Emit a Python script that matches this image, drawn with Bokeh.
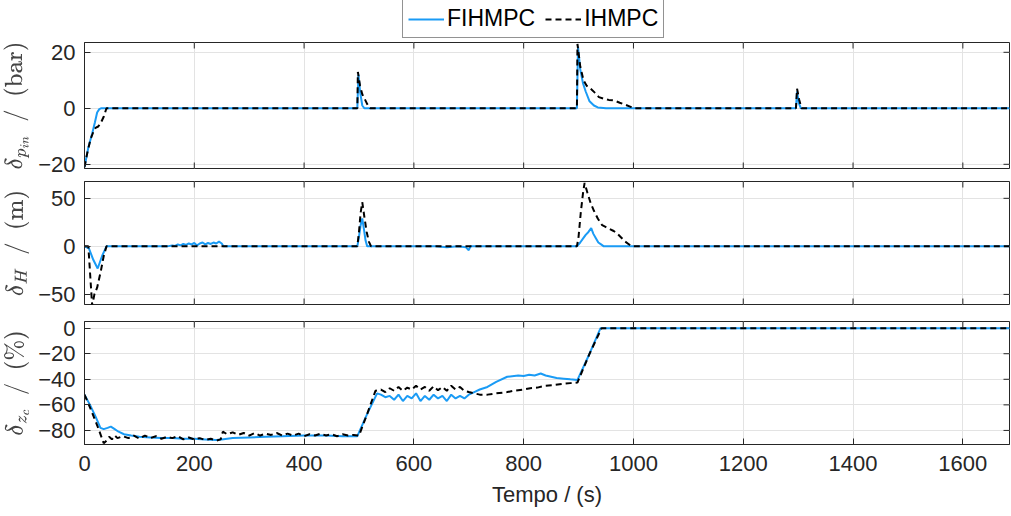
from bokeh.plotting import figure
from bokeh.layouts import column
from bokeh.models import Range1d, FixedTicker, Legend, LegendItem
from bokeh.embed import file_html
from bokeh.resources import INLINE

# ---------------- data ----------------
x_ticks = [0, 200, 400, 600, 800, 1000, 1200, 1400, 1600]
x_max = 1685

# delta p_in (bar)
t_p_fi = [0, 7, 14, 19, 23, 27, 30, 45, 497, 499, 502, 506, 510, 897, 899, 903, 908, 913, 920, 928, 935, 950,
          1296, 1298, 1301, 1305, 1685]
p_fi = [-21, -14, -9, -5, -1.5, -0.3, 0, 0, 0, 12, 6, 1, 0, 0, 22, 14, 9, 6, 2.5, 1, 0.3, 0,
        0, 6, 2, 0, 0]
t_p_ih = [0, 5, 11, 16, 20, 25, 29, 35, 40, 497, 498, 502, 506, 510, 515, 520, 897, 898, 903, 909, 915, 922,
          930, 937, 945, 955, 965, 975, 985, 995, 1000, 1296, 1298, 1302, 1306, 1685]
p_ih = [-21, -16, -11, -8.5, -7, -6.5, -5.5, -3, 0, 0, 13, 8, 5, 3.5, 1.5, 0, 0, 23, 15, 10, 8, 7,
        5.5, 4, 3.5, 3, 2.8, 2, 1.3, 0.5, 0, 0, 7, 3, 0, 0]
p_ticks = [-20, 0, 20]

# delta H (m)
t_h_fi = [0, 8, 16, 24, 32, 40, 150, 160, 165, 170, 175, 180, 185, 190, 195, 200, 205, 210, 215, 220, 225,
          230, 235, 240, 245, 250, 253, 497, 500, 503, 506, 509, 512, 515, 640, 660, 680, 695, 700, 703,
          897, 903, 908, 913, 918, 923, 927, 931, 936, 941, 946, 1685]
h_fi = [0, -2, -14, -23, -10, 0, 0, 1, 0.5, 2, 1, 2.5, 1.5, 3, 2, 3.5, 1, 3, 4, 2, 3.5,
        2.5, 4, 3, 5, 3, 0, 0, 10, 22, 29, 18, 6, 0, 0, -1, 0, -1, -4, 0,
        0, 4, 8, 12, 15, 19, 13, 9, 4, 2, 0, 0]
t_h_ih = [0, 7, 14, 18, 23, 30, 35, 40, 497, 500, 503, 506, 510, 514, 518, 522, 897, 900, 904, 908, 911,
          916, 922, 928, 935, 943, 950, 957, 964, 971, 978, 985, 992, 998, 1685]
h_ih = [0, 0, -62, -50, -43, -25, -10, 0, 0, 15, 35, 46, 30, 15, 5, 0, 0, 10, 35, 55, 66,
        56, 45, 37, 29, 22, 20, 18, 16, 13, 9, 5, 2, 0, 0]
h_ticks = [-50, 0, 50]

# delta z_c (%)
t_z_fi = [0, 10, 20, 29, 35, 42, 48, 55, 62, 72, 85, 100, 120, 140, 160, 180, 200, 220, 240, 250, 270,
          300, 330, 360, 400, 440, 470, 497, 515, 533,
          540, 548, 556, 564, 572, 580, 588, 596, 604, 612, 620, 628, 636, 644, 652, 660, 668, 676, 684,
          692, 700, 710, 720, 734, 750, 770, 790, 800, 810, 820, 831, 840, 850, 860, 873, 885, 898,
          920, 940, 1685]
z_fi = [-52, -60, -69, -78, -79, -78, -77, -79, -81, -83, -84, -85, -85.5, -86, -86, -86.5, -86.5, -87,
        -87.5, -87, -86, -85.5, -85, -84.5, -84, -84, -84.5, -84.5, -67, -51,
        -52, -54, -53, -56, -52, -57, -53, -55, -51, -57, -53, -56, -52, -55, -53, -57, -52, -55, -53,
        -55, -52, -50, -48, -46, -42, -38, -37, -37.5, -36.5, -37, -35.5, -37, -38, -39, -39.5, -40,
        -40.5, -20, 0, 0]
t_z_ih = [0, 12, 24, 35, 40, 45, 50, 55, 60, 70, 80, 90, 100, 110, 120, 130, 140, 150, 160, 170, 180,
          190, 200, 210, 220, 230, 240, 248, 252, 260, 270, 280, 290, 300, 310, 320, 330, 340, 350,
          360, 370, 380, 390, 400, 410, 420, 430, 440, 450, 460, 470, 480, 490, 500, 515, 530,
          540, 548, 556, 564, 572, 580, 588, 596, 604, 612, 620, 628, 636, 644, 652, 660, 668, 676,
          684, 692, 700, 710, 720, 734, 750, 770, 782, 800, 812, 825, 840, 855, 873, 885, 898,
          920, 942, 1685]
z_ih = [-52, -64, -77, -90, -88, -85, -87, -84, -86, -84.5, -86, -84, -86.5, -84, -86, -84.5, -86.5,
        -85, -86, -84.5, -87, -85.5, -87, -86, -87.5, -86.5, -88, -87, -81, -83, -81.5, -83.5, -82,
        -84, -82, -84, -82.5, -83.5, -82, -84, -82.5, -84, -82.5, -84.5, -83, -84, -82.5, -84, -83,
        -84.5, -83, -84, -83.5, -84, -67, -49,
        -48, -50, -47, -49, -46, -49, -46.5, -48, -45, -48, -46, -49, -45.5, -48.5, -46, -49, -45,
        -48, -46, -49, -50, -51, -52, -52, -51, -50, -49, -48, -47, -46.5, -45, -44.5, -43.5, -43,
        -42.5, -20, 0, 0]
z_ticks = [-80, -60, -40, -20, 0]

series_names = ["FIHMPC", "IHMPC"]

# ---------------- style ----------------
BLUE = "#1a9bf5"
AX = "#262626"
GRID = "#e3e3e3"
FONT = "Liberation Sans"
FRAME_W = 925
TICK = 6
DASH = "6 4"

x_range = Range1d(0, x_max)


def make_fig(height, top, bottom, frame_h, yr, yticks, ylabel, show_xaxis):
    p = figure(width=1011, height=height, x_range=x_range, y_range=Range1d(*yr),
               output_backend="svg", toolbar_location=None,
               min_border_left=84, min_border_right=2, min_border_top=top, min_border_bottom=bottom)
    p.outline_line_color = AX
    p.outline_line_width = 1
    p.background_fill_color = "white"
    p.border_fill_color = "white"
    p.xgrid.grid_line_color = GRID
    p.ygrid.grid_line_color = GRID
    p.xaxis.ticker = FixedTicker(ticks=x_ticks)
    p.yaxis.ticker = FixedTicker(ticks=yticks)
    p.xgrid.ticker = FixedTicker(ticks=x_ticks)
    for ax in p.xaxis + p.yaxis:
        ax.axis_line_color = AX
        ax.major_tick_line_color = AX
        ax.major_tick_in = TICK
        ax.major_tick_out = 0
        ax.minor_tick_line_color = None
        ax.major_label_text_font = FONT
        ax.major_label_text_font_size = "22px"
        ax.major_label_text_color = AX
    p.yaxis.major_label_standoff = 9
    p.yaxis.axis_label = ylabel
    p.yaxis.axis_label_text_font_size = "21px"
    p.yaxis.axis_label_text_color = "#444444"
    p.yaxis.axis_label_standoff = 6
    if show_xaxis:
        p.xaxis.major_label_standoff = 11
        p.xaxis.axis_label = "Tempo / (s)"
        p.xaxis.axis_label_text_font = FONT
        p.xaxis.axis_label_text_font_style = "normal"
        p.xaxis.axis_label_text_font_size = "22px"
        p.xaxis.axis_label_text_color = AX
        p.xaxis.axis_label_standoff = 8
    else:
        p.xaxis.visible = False
    # inward box ticks on the remaining sides, placed from the tick lists
    y0, y1 = yr
    dx = TICK * x_max / FRAME_W
    dy = TICK * (y1 - y0) / frame_h
    p.segment(x0=[x_max] * len(yticks), y0=yticks, x1=[x_max - dx] * len(yticks), y1=yticks,
              line_color=AX, line_width=1)
    p.segment(x0=x_ticks, y0=[y1] * len(x_ticks), x1=x_ticks, y1=[y1 - dy] * len(x_ticks),
              line_color=AX, line_width=1)
    if not show_xaxis:
        p.segment(x0=x_ticks, y0=[y0] * len(x_ticks), x1=x_ticks, y1=[y0 + dy] * len(x_ticks),
                  line_color=AX, line_width=1)
    return p


# legend strip on top (its lines carry the first panel's data, kept out of its view)
pl = figure(width=1011, height=41, x_range=Range1d(-20, -10), y_range=Range1d(0, 1),
            output_backend="svg", toolbar_location=None,
            min_border_left=84, min_border_right=2, min_border_top=0, min_border_bottom=0)
pl.axis.visible = False
pl.grid.visible = False
pl.outline_line_color = None
lb = pl.line(t_p_fi, p_fi, line_color=BLUE, line_width=2)
lk = pl.line(t_p_ih, p_ih, line_color="black", line_width=2, line_dash=DASH)
legend = Legend(items=[LegendItem(label=series_names[0], renderers=[lb]),
                       LegendItem(label=series_names[1], renderers=[lk])],
                orientation="horizontal", location=(318, 3),
                label_text_font=FONT, label_text_font_size="23px", label_text_color="black",
                glyph_width=36, glyph_height=20, label_standoff=3, spacing=10, padding=5,
                margin=0, border_line_color=AX, border_line_width=1,
                background_fill_color="white", background_fill_alpha=1.0)
pl.add_layout(legend, "center")

p1 = make_fig(138, 1, 11, 126, (-21.5, 23.5), p_ticks, r"$$\delta_{p_{in}}\ \ /\ \ (\mathrm{bar})$$", False)
p2 = make_fig(133, 2, 8, 123, (-60.5, 67.5), h_ticks, r"$$\delta_{H}\ \ /\ \ (\mathrm{m})$$", False)
p3 = make_fig(204, 9, 72, 123, (-91, 5.2), z_ticks, r"$$\delta_{z_c}\ \ /\ \ (\%)$$", True)

p1.line(t_p_fi, p_fi, line_color=BLUE, line_width=2)
p1.line(t_p_ih, p_ih, line_color="black", line_width=2, line_dash=DASH)
p2.line(t_h_fi, h_fi, line_color=BLUE, line_width=2)
p2.line(t_h_ih, h_ih, line_color="black", line_width=2, line_dash=DASH)
p3.line(t_z_fi, z_fi, line_color=BLUE, line_width=2)
p3.line(t_z_ih, z_ih, line_color="black", line_width=2, line_dash=DASH)

layout = column(pl, p1, p2, p3)
open("out.html", "w").write(file_html(layout, INLINE))
